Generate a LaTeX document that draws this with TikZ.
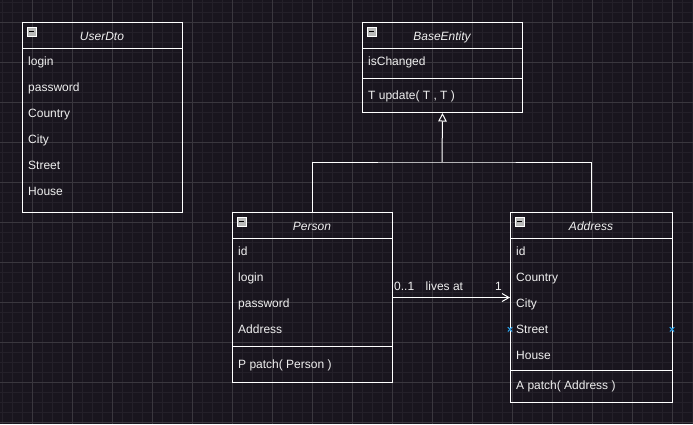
\documentclass[tikz,border=0pt]{standalone}
\usepackage{fontspec}
\setmainfont{Liberation Sans}
\usetikzlibrary{arrows.meta}
\definecolor{bgc}{RGB}{25,21,30}
\definecolor{minorc}{RGB}{36,32,41}
\definecolor{majorc}{RGB}{58,55,62}
\definecolor{txtc}{RGB}{240,240,240}
\definecolor{markc}{RGB}{41,160,230}
\tikzset{
  minorline/.style={draw=minorc, line width=0.8pt},
  majorline/.style={draw=majorc, line width=1pt},
  classbox/.style={draw=white, line width=1pt, anchor=north west, inner sep=0pt, rectangle},
  sepline/.style={draw=white, line width=1pt},
  attr/.style={anchor=base west, inner sep=0pt, text=txtc, font=\fontsize{12}{14}\selectfont},
  title/.style={anchor=base, inner sep=0pt, text=txtc, font=\fontsize{12}{14}\selectfont\itshape},
  lbl/.style={anchor=base west, inner sep=0pt, text=txtc, font=\fontsize{12}{14}\selectfont},
  iconbox/.style={draw=white, fill=gray!55!white, line width=0.6pt, minimum width=8.5pt, minimum height=8.5pt, inner sep=0pt, anchor=north west},
  conn/.style={draw=white, line width=1pt},
  gen/.style={conn, -{Triangle[open, length=8.5pt, width=8.5pt, fill=bgc]}},
  assoc/.style={conn, -{Straight Barb[length=7pt, width=8pt]}},
  hovermark/.style={draw=markc, line width=1pt}
}
\newcommand{\collapseicon}[2]{%
  \node[iconbox] (#1) at (#2) {};
  \draw[black, line width=1.2pt] ([xshift=1.8pt]#1.west) -- ([xshift=-1.8pt]#1.east);
}
\begin{document}
\begin{tikzpicture}[x=1pt,y=-1pt]
\fill[bgc] (0,0) rectangle (693,424);
\useasboundingbox (0,0) rectangle (693,424);
% grid
\foreach \x in {2,12,...,692} \draw[minorline] (\x,0) -- (\x,424);
\foreach \y in {2,12,...,422} \draw[minorline] (0,\y) -- (693,\y);
\foreach \x in {32,72,...,672} \draw[majorline] (\x,0) -- (\x,424);
\foreach \y in {22,62,...,422} \draw[majorline] (0,\y) -- (693,\y);

% UserDto
\node[classbox, minimum width=160pt, minimum height=190pt] (userdto) at (22,22) {};
\draw[sepline] (22,48) -- (182,48);
\collapseicon{udicon}{27,27}
\node[title] (udtitle) at (102,40) {UserDto};
\node[attr] (ud1) at (28,65.5) {login};
\node[attr] (ud2) at (28,91.5) {password};
\node[attr] (ud3) at (28,117.5) {Country};
\node[attr] (ud4) at (28,143.5) {City};
\node[attr] (ud5) at (28,169.5) {Street};
\node[attr] (ud6) at (28,195.5) {House};

% BaseEntity
\node[classbox, minimum width=160pt, minimum height=90pt] (base) at (362,22) {};
\draw[sepline] (362,48) -- (522,48);
\draw[sepline] (362,78) -- (522,78);
\collapseicon{beicon}{367,27}
\node[title] (betitle) at (442,40) {BaseEntity};
\node[attr] (be1) at (368,65.5) {isChanged};
\node[attr] (be2) at (368,99.5) {T update( T , T )};

% Person
\node[classbox, minimum width=160pt, minimum height=170pt] (person) at (232,212) {};
\draw[sepline] (232,238) -- (392,238);
\draw[sepline] (232,346) -- (392,346);
\collapseicon{picon}{237,217}
\node[title] (ptitle) at (312,230) {Person};
\node[attr] (p1) at (238,255.5) {id};
\node[attr] (p2) at (238,281.5) {login};
\node[attr] (p3) at (238,307.5) {password};
\node[attr] (p4) at (238,333.5) {Address};
\node[attr] (p5) at (238,368) {P patch( Person )};

% Address
\node[classbox, minimum width=162pt, minimum height=190pt] (address) at (510,212) {};
\draw[sepline] (510,238) -- (672,238);
\draw[sepline] (510,370) -- (672,370);
\collapseicon{aicon}{515,217}
\node[title] (atitle) at (591,230) {Address};
\node[attr] (a1) at (516,255.5) {id};
\node[attr] (a2) at (516,281.5) {Country};
\node[attr] (a3) at (516,307.5) {City};
\node[attr] (a4) at (516,333.5) {Street};
\node[attr] (a5) at (516,359.5) {House};
\node[attr] (a6) at (516,389.5) {A patch( Address )};

% generalization
\coordinate (joint) at (442,162);
\draw[conn] (person.north) |- (joint) -| (address.north);
\draw[gen] (joint) -- (base.south);

% association
\draw[assoc] (person.east) -- (person.east -| address.west);
\node[lbl] (mult1) at (394,290.5) {0..1};
\node[lbl] (assoclbl) at (425.5,290.5) {lives at};
\node[lbl] (mult2) at (495,290.5) {1};

% hover markers
\foreach \mx in {510,672} {
  \draw[hovermark] (\mx-2.2,329.3-2.2) -- (\mx+2.2,329.3+2.2);
  \draw[hovermark] (\mx-2.2,329.3+2.2) -- (\mx+2.2,329.3-2.2);
}
\end{tikzpicture}
\end{document}
